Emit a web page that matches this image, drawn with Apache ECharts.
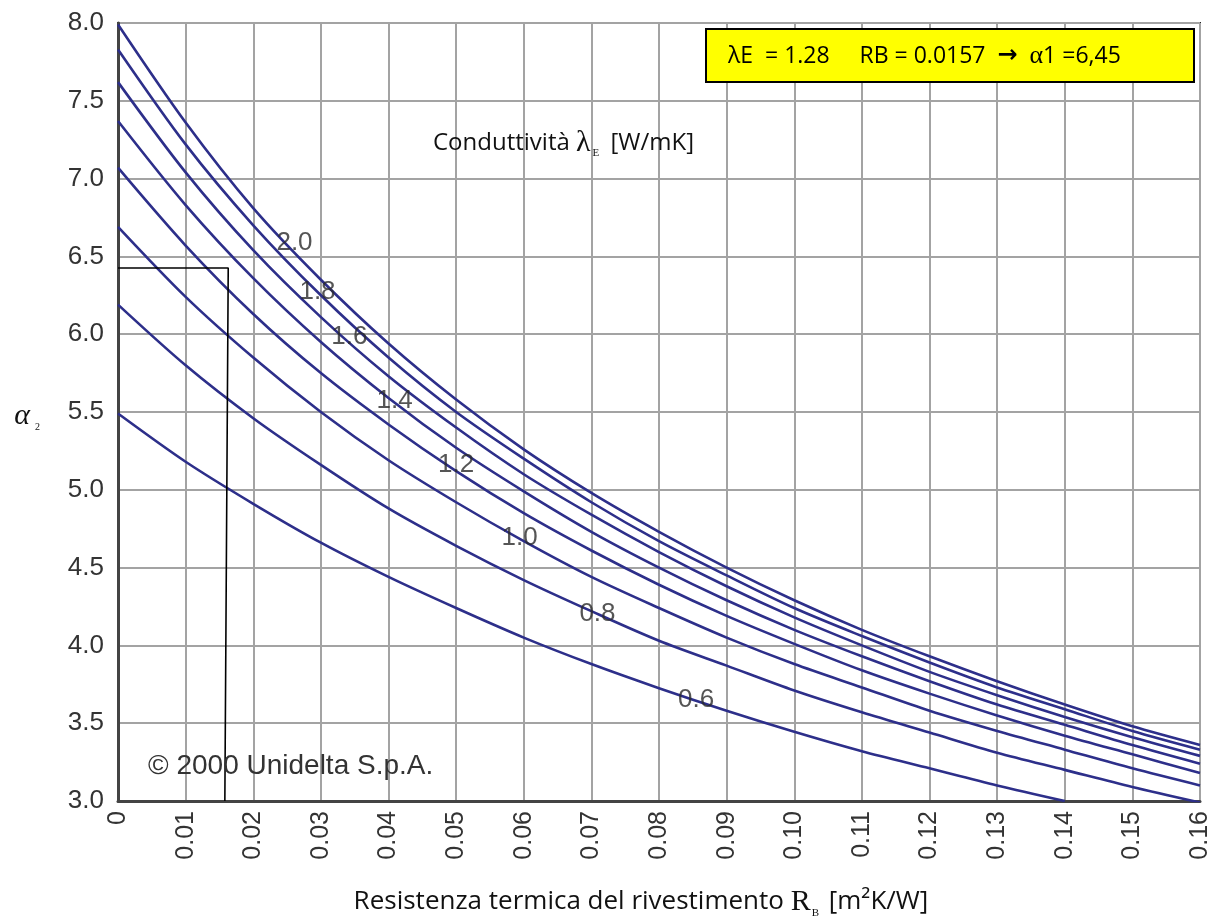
<!DOCTYPE html>
<html>
<head>
<meta charset="utf-8">
<script src="https://cdn.jsdelivr.net/npm/echarts@6/dist/echarts.min.js"></script>
<style>
html,body{margin:0;padding:0;background:#fff;}
#chart{width:1219px;height:917px;}
</style>
</head>
<body>
<div id="chart"></div>
<script>
// ---- data ----
const rbTicks = [0,0.01,0.02,0.03,0.04,0.05,0.06,0.07,0.08,0.09,0.10,0.11,0.12,0.13,0.14,0.15,0.16];
const lambdaLabels = ['2.0','1.8','1.6','1.4','1.2','1.0','0.8','0.6'];
const alpha_l20 = [7.99,7.36,6.81,6.35,5.94,5.58,5.26,4.98,4.73,4.50,4.29,4.10,3.93,3.77,3.62,3.48,3.36];
const alpha_l18 = [7.83,7.22,6.70,6.25,5.85,5.50,5.20,4.92,4.67,4.45,4.24,4.06,3.89,3.73,3.59,3.45,3.33];
const alpha_l16 = [7.62,7.04,6.54,6.11,5.73,5.40,5.10,4.84,4.60,4.38,4.18,4.00,3.83,3.68,3.54,3.41,3.29];
const alpha_l14 = [7.37,6.83,6.36,5.95,5.59,5.27,4.99,4.73,4.50,4.29,4.10,3.93,3.77,3.62,3.49,3.36,3.24];
const alpha_l12 = [7.07,6.57,6.13,5.75,5.42,5.12,4.85,4.61,4.39,4.19,4.01,3.84,3.69,3.55,3.42,3.30,3.18];
const alpha_l10 = [6.69,6.24,5.85,5.50,5.19,4.92,4.67,4.44,4.24,4.05,3.88,3.73,3.58,3.45,3.33,3.21,3.10];
const alpha_l08 = [6.19,5.80,5.46,5.16,4.88,4.64,4.42,4.22,4.03,3.87,3.71,3.57,3.44,3.31,3.20,3.09,2.99];
const alpha_l06 = [5.49,5.18,4.91,4.66,4.44,4.24,4.05,3.88,3.725,3.58,3.445,3.32,3.21,3.10,3.00];
// curve label anchors (data coordinates: R_B, alpha)
const curveLabelAt = [[0.0261,6.59],[0.0295,6.27],[0.0342,5.98],[0.0409,5.57],[0.0500,5.16],[0.0594,4.69],[0.0709,4.20],[0.0855,3.65]];
// reading guide for lambda_E = 1.28, R_B = 0.0157
const guidePath = [[0,6.425],[0.0163,6.425],[0.0158,3.0]];
const xTickLabels = ['0','0.01','0.02','0.03','0.04','0.05','0.06','0.07','0.08','0.09','0.10','0.11','0.12','0.13','0.14','0.15','0.16'];
const yTickLabels = ['3.0','3.5','4.0','4.5','5.0','5.5','6.0','6.5','7.0','7.5','8.0'];

const curves = [alpha_l20,alpha_l18,alpha_l16,alpha_l14,alpha_l12,alpha_l10,alpha_l08,alpha_l06];
const curveColor = '#2d2f8a';

const series = curves.map((arr, i) => ({
  type: 'line',
  name: lambdaLabels[i],
  data: arr.map((v, k) => [rbTicks[k], v]),
  smooth: 0.3,
  showSymbol: false,
  symbol: 'none',
  lineStyle: {color: curveColor, width: 2.6},
  clip: true,
  z: 3,
  silent: true
}));

series.push({
  type: 'line',
  data: guidePath,
  showSymbol: false,
  symbol: 'none',
  lineStyle: {color: '#000', width: 1.6},
  z: 4,
  silent: true
});

series.push({
  type: 'scatter',
  data: curveLabelAt.map((c, i) => ({value: c, name: lambdaLabels[i]})),
  symbolSize: 0,
  z: 5,
  silent: true,
  label: {
    show: true,
    position: 'inside',
    formatter: p => p.name,
    fontFamily: 'Liberation Sans',
    fontSize: 26,
    color: '#2a2a2a'
  }
});

const chart = echarts.init(document.getElementById('chart'));
chart.setOption({
  animation: false,
  backgroundColor: '#fff',
  grid: {
    left: 118, right: 19, top: 23, bottom: 116,
    containLabel: false,
    outerBoundsMode: 'none',
    show: true, borderColor: '#222', borderWidth: 2, backgroundColor: 'transparent'
  },
  xAxis: {
    type: 'value',
    min: 0, max: 0.16, interval: 0.01,
    axisLine: {show: true, onZero: false, lineStyle: {color: '#444', width: 3}},
    axisTick: {show: false},
    splitLine: {show: true, lineStyle: {color: '#a3a3a3', width: 2}},
    axisLabel: {
      rotate: 90,
      margin: 10,
      fontFamily: 'Liberation Sans',
      fontSize: 25,
      color: '#333',
      showMinLabel: true,
      showMaxLabel: true,
      formatter: v => xTickLabels[Math.round(v * 100)]
    },
    name: '{t|Resistenza termica del rivestimento }{r|R}{s|B}{t| [m²K/W]}',
    nameLocation: 'middle',
    nameGap: 84,
    nameTextStyle: {
      padding: [0, 36, 0, 0],
      rich: {
        t: {fontFamily: 'Open Sans', fontSize: 26, color: '#111', lineHeight: 34},
        r: {fontFamily: 'Liberation Serif', fontSize: 30, color: '#111', lineHeight: 34},
        s: {fontFamily: 'Liberation Serif', fontSize: 11, color: '#111', lineHeight: 34, verticalAlign: 'bottom', padding: [0, 3, 0, 1]}
      }
    }
  },
  yAxis: {
    type: 'value',
    min: 3, max: 8, interval: 0.5,
    axisLine: {show: true, onZero: false, lineStyle: {color: '#444', width: 3}},
    axisTick: {show: false},
    splitLine: {show: true, lineStyle: {color: '#a3a3a3', width: 2}},
    axisLabel: {
      margin: 14,
      fontFamily: 'Liberation Sans',
      fontSize: 26,
      color: '#333',
      showMinLabel: true,
      showMaxLabel: true,
      formatter: v => yTickLabels[Math.round((v - 3) * 2)]
    },
    name: '{a|α}{s|2}',
    nameLocation: 'middle',
    nameRotate: 0,
    nameGap: 78,
    nameTextStyle: {
      padding: [8, 0, 0, 0],
      rich: {
        a: {fontFamily: 'Liberation Serif', fontStyle: 'italic', fontSize: 30, color: '#111', lineHeight: 32},
        s: {fontFamily: 'Liberation Serif', fontSize: 10, color: '#111', lineHeight: 32, verticalAlign: 'bottom', padding: [0, 0, 0, 5]}
      }
    }
  },
  graphic: [
    {
      type: 'rect',
      shape: {x: 706, y: 29, width: 488, height: 53},
      style: {fill: '#ffff00', stroke: '#000', lineWidth: 2},
      z: 10
    },
    {
      type: 'text',
      x: 728, y: 56,
      z: 11,
      style: {
        text: '{t|λE  = 1.28     RB = 0.0157  }{b|→}{t|  }{g|α}{t|1 =6,45}',
        verticalAlign: 'middle',
        rich: {
          t: {fontFamily: 'Open Sans', fontSize: 23, fill: '#000'},
          b: {fontFamily: 'DejaVu Sans', fontSize: 24, fontWeight: 'bold', fill: '#000'},
          g: {fontFamily: 'Liberation Serif', fontSize: 26, fill: '#000'}
        }
      }
    },
    {
      type: 'text',
      x: 433, y: 143,
      z: 11,
      style: {
        text: '{t|Conduttività }{l|λ}{s|E}{t| [W/mK]}',
        verticalAlign: 'middle',
        rich: {
          t: {fontFamily: 'Open Sans', fontSize: 24, fill: '#111', lineHeight: 32},
          l: {fontFamily: 'Liberation Serif', fontSize: 30, fill: '#111', lineHeight: 32},
          s: {fontFamily: 'Liberation Serif', fontSize: 11, fill: '#111', lineHeight: 32, verticalAlign: 'bottom', padding: [0, 5, 0, 2]}
        }
      }
    },
    {
      type: 'text',
      x: 148, y: 766,
      z: 11,
      style: {
        text: '© 2000 Unidelta S.p.A.',
        verticalAlign: 'middle',
        fontFamily: 'Liberation Sans',
        fontSize: 28,
        fill: '#333'
      }
    }
  ],
  series: series
});
</script>
</body>
</html>
